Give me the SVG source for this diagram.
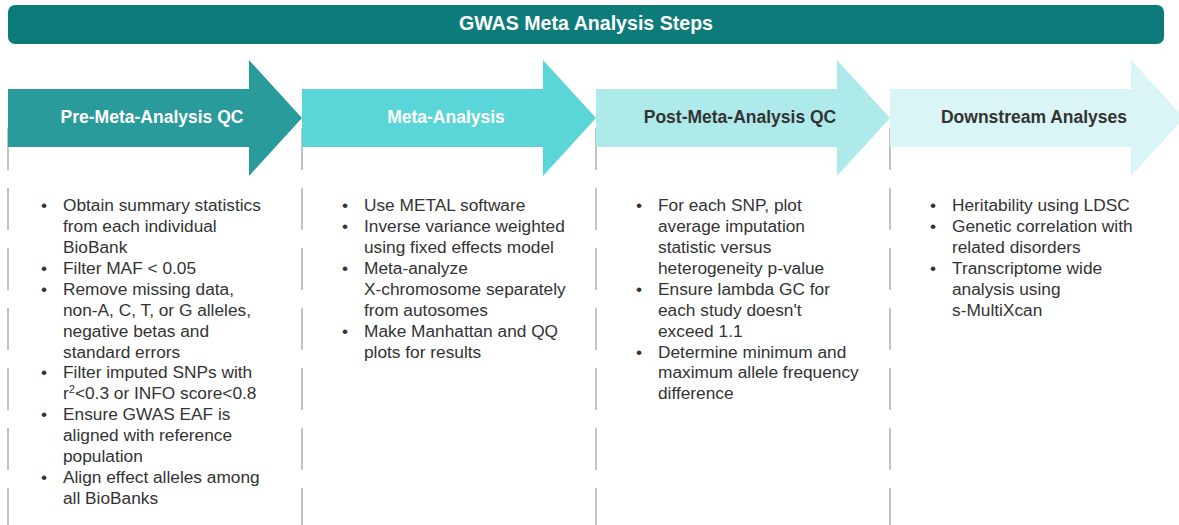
<svg xmlns="http://www.w3.org/2000/svg" width="1179" height="525" viewBox="0 0 1179 525">
  <style>
    .title { font-family: "Liberation Sans", Arial, sans-serif; font-weight: bold; font-size: 19.6px; fill: #ffffff; text-anchor: middle; }
    .label { font-family: "Liberation Sans", Arial, sans-serif; font-weight: bold; font-size: 17.5px; text-anchor: middle; }
    .light { fill: #ffffff; }
    .dark { fill: #333333; }
    .body { font-family: "Liberation Sans", Arial, sans-serif; font-size: 17.3px; fill: #333333; }
    .divider { stroke: #b3b3b3; stroke-width: 1.6; stroke-dasharray: 42 18; fill: none; }
    .sup { font-size: 11px; }
  </style>

  <!-- vertical dashed dividers between the stage columns -->
  <g id="dividers">
    <line class="divider" x1="8" y1="128" x2="8" y2="525"/>
    <line class="divider" x1="302" y1="128" x2="302" y2="525"/>
    <line class="divider" x1="596" y1="128" x2="596" y2="525"/>
    <line class="divider" x1="890" y1="128" x2="890" y2="525"/>
  </g>

  <!-- header bar -->
  <g id="header">
    <rect x="8" y="5" width="1156" height="39" rx="7" fill="#0e7b7b"/>
    <text class="title" x="586" y="30">GWAS Meta Analysis Steps</text>
  </g>

  <!-- stage 1 -->
  <g id="stage-pre-qc">
    <polygon points="8,89 249,89 249,60 302,118 249,176 249,147 8,147" fill="#2a9b9b"/>
    <text class="label light" x="152" y="123">Pre-Meta-Analysis QC</text>
    <g class="body">
      <text x="41" y="211">•</text><text x="63" y="211">Obtain summary statistics</text>
      <text x="63" y="232">from each individual</text>
      <text x="63" y="253">BioBank</text>
      <text x="41" y="274">•</text><text x="63" y="274">Filter MAF &lt; 0.05</text>
      <text x="41" y="295">•</text><text x="63" y="295">Remove missing data,</text>
      <text x="63" y="316">non-A, C, T, or G alleles,</text>
      <text x="63" y="337">negative betas and</text>
      <text x="63" y="358">standard errors</text>
      <text x="41" y="378">•</text><text x="63" y="378">Filter imputed SNPs with</text>
      <text x="63" y="399">r<tspan class="sup" dy="-6">2</tspan><tspan dy="6">&lt;0.3 or INFO score&lt;0.8</tspan></text>
      <text x="41" y="420">•</text><text x="63" y="420">Ensure GWAS EAF is</text>
      <text x="63" y="441">aligned with reference</text>
      <text x="63" y="462">population</text>
      <text x="41" y="483">•</text><text x="63" y="483">Align effect alleles among</text>
      <text x="63" y="504">all BioBanks</text>
    </g>
  </g>

  <!-- stage 2 -->
  <g id="stage-meta">
    <polygon points="302,89 543,89 543,60 596,118 543,176 543,147 302,147" fill="#5bd6d8"/>
    <text class="label light" x="446" y="123">Meta-Analysis</text>
    <g class="body">
      <text x="342" y="211">•</text><text x="364" y="211">Use METAL software</text>
      <text x="342" y="232">•</text><text x="364" y="232">Inverse variance weighted</text>
      <text x="364" y="253">using fixed effects model</text>
      <text x="342" y="274">•</text><text x="364" y="274">Meta-analyze</text>
      <text x="364" y="295">X-chromosome separately</text>
      <text x="364" y="316">from autosomes</text>
      <text x="342" y="337">•</text><text x="364" y="337">Make Manhattan and QQ</text>
      <text x="364" y="358">plots for results</text>
    </g>
  </g>

  <!-- stage 3 -->
  <g id="stage-post-qc">
    <polygon points="596,89 837,89 837,60 890,118 837,176 837,147 596,147" fill="#aeeaea"/>
    <text class="label dark" x="740" y="123">Post-Meta-Analysis QC</text>
    <g class="body">
      <text x="636" y="211">•</text><text x="658" y="211">For each SNP, plot</text>
      <text x="658" y="232">average imputation</text>
      <text x="658" y="253">statistic versus</text>
      <text x="658" y="274">heterogeneity p-value</text>
      <text x="636" y="295">•</text><text x="658" y="295">Ensure lambda GC for</text>
      <text x="658" y="316">each study doesn't</text>
      <text x="658" y="337">exceed 1.1</text>
      <text x="636" y="358">•</text><text x="658" y="358">Determine minimum and</text>
      <text x="658" y="378">maximum allele frequency</text>
      <text x="658" y="399">difference</text>
    </g>
  </g>

  <!-- stage 4 -->
  <g id="stage-downstream">
    <polygon points="890,89 1131,89 1131,60 1184,118 1131,176 1131,147 890,147" fill="#daf5f5"/>
    <text class="label dark" x="1034" y="123">Downstream Analyses</text>
    <g class="body">
      <text x="930" y="211">•</text><text x="952" y="211">Heritability using LDSC</text>
      <text x="930" y="232">•</text><text x="952" y="232">Genetic correlation with</text>
      <text x="952" y="253">related disorders</text>
      <text x="930" y="274">•</text><text x="952" y="274">Transcriptome wide</text>
      <text x="952" y="295">analysis using</text>
      <text x="952" y="316">s-MultiXcan</text>
    </g>
  </g>
</svg>
